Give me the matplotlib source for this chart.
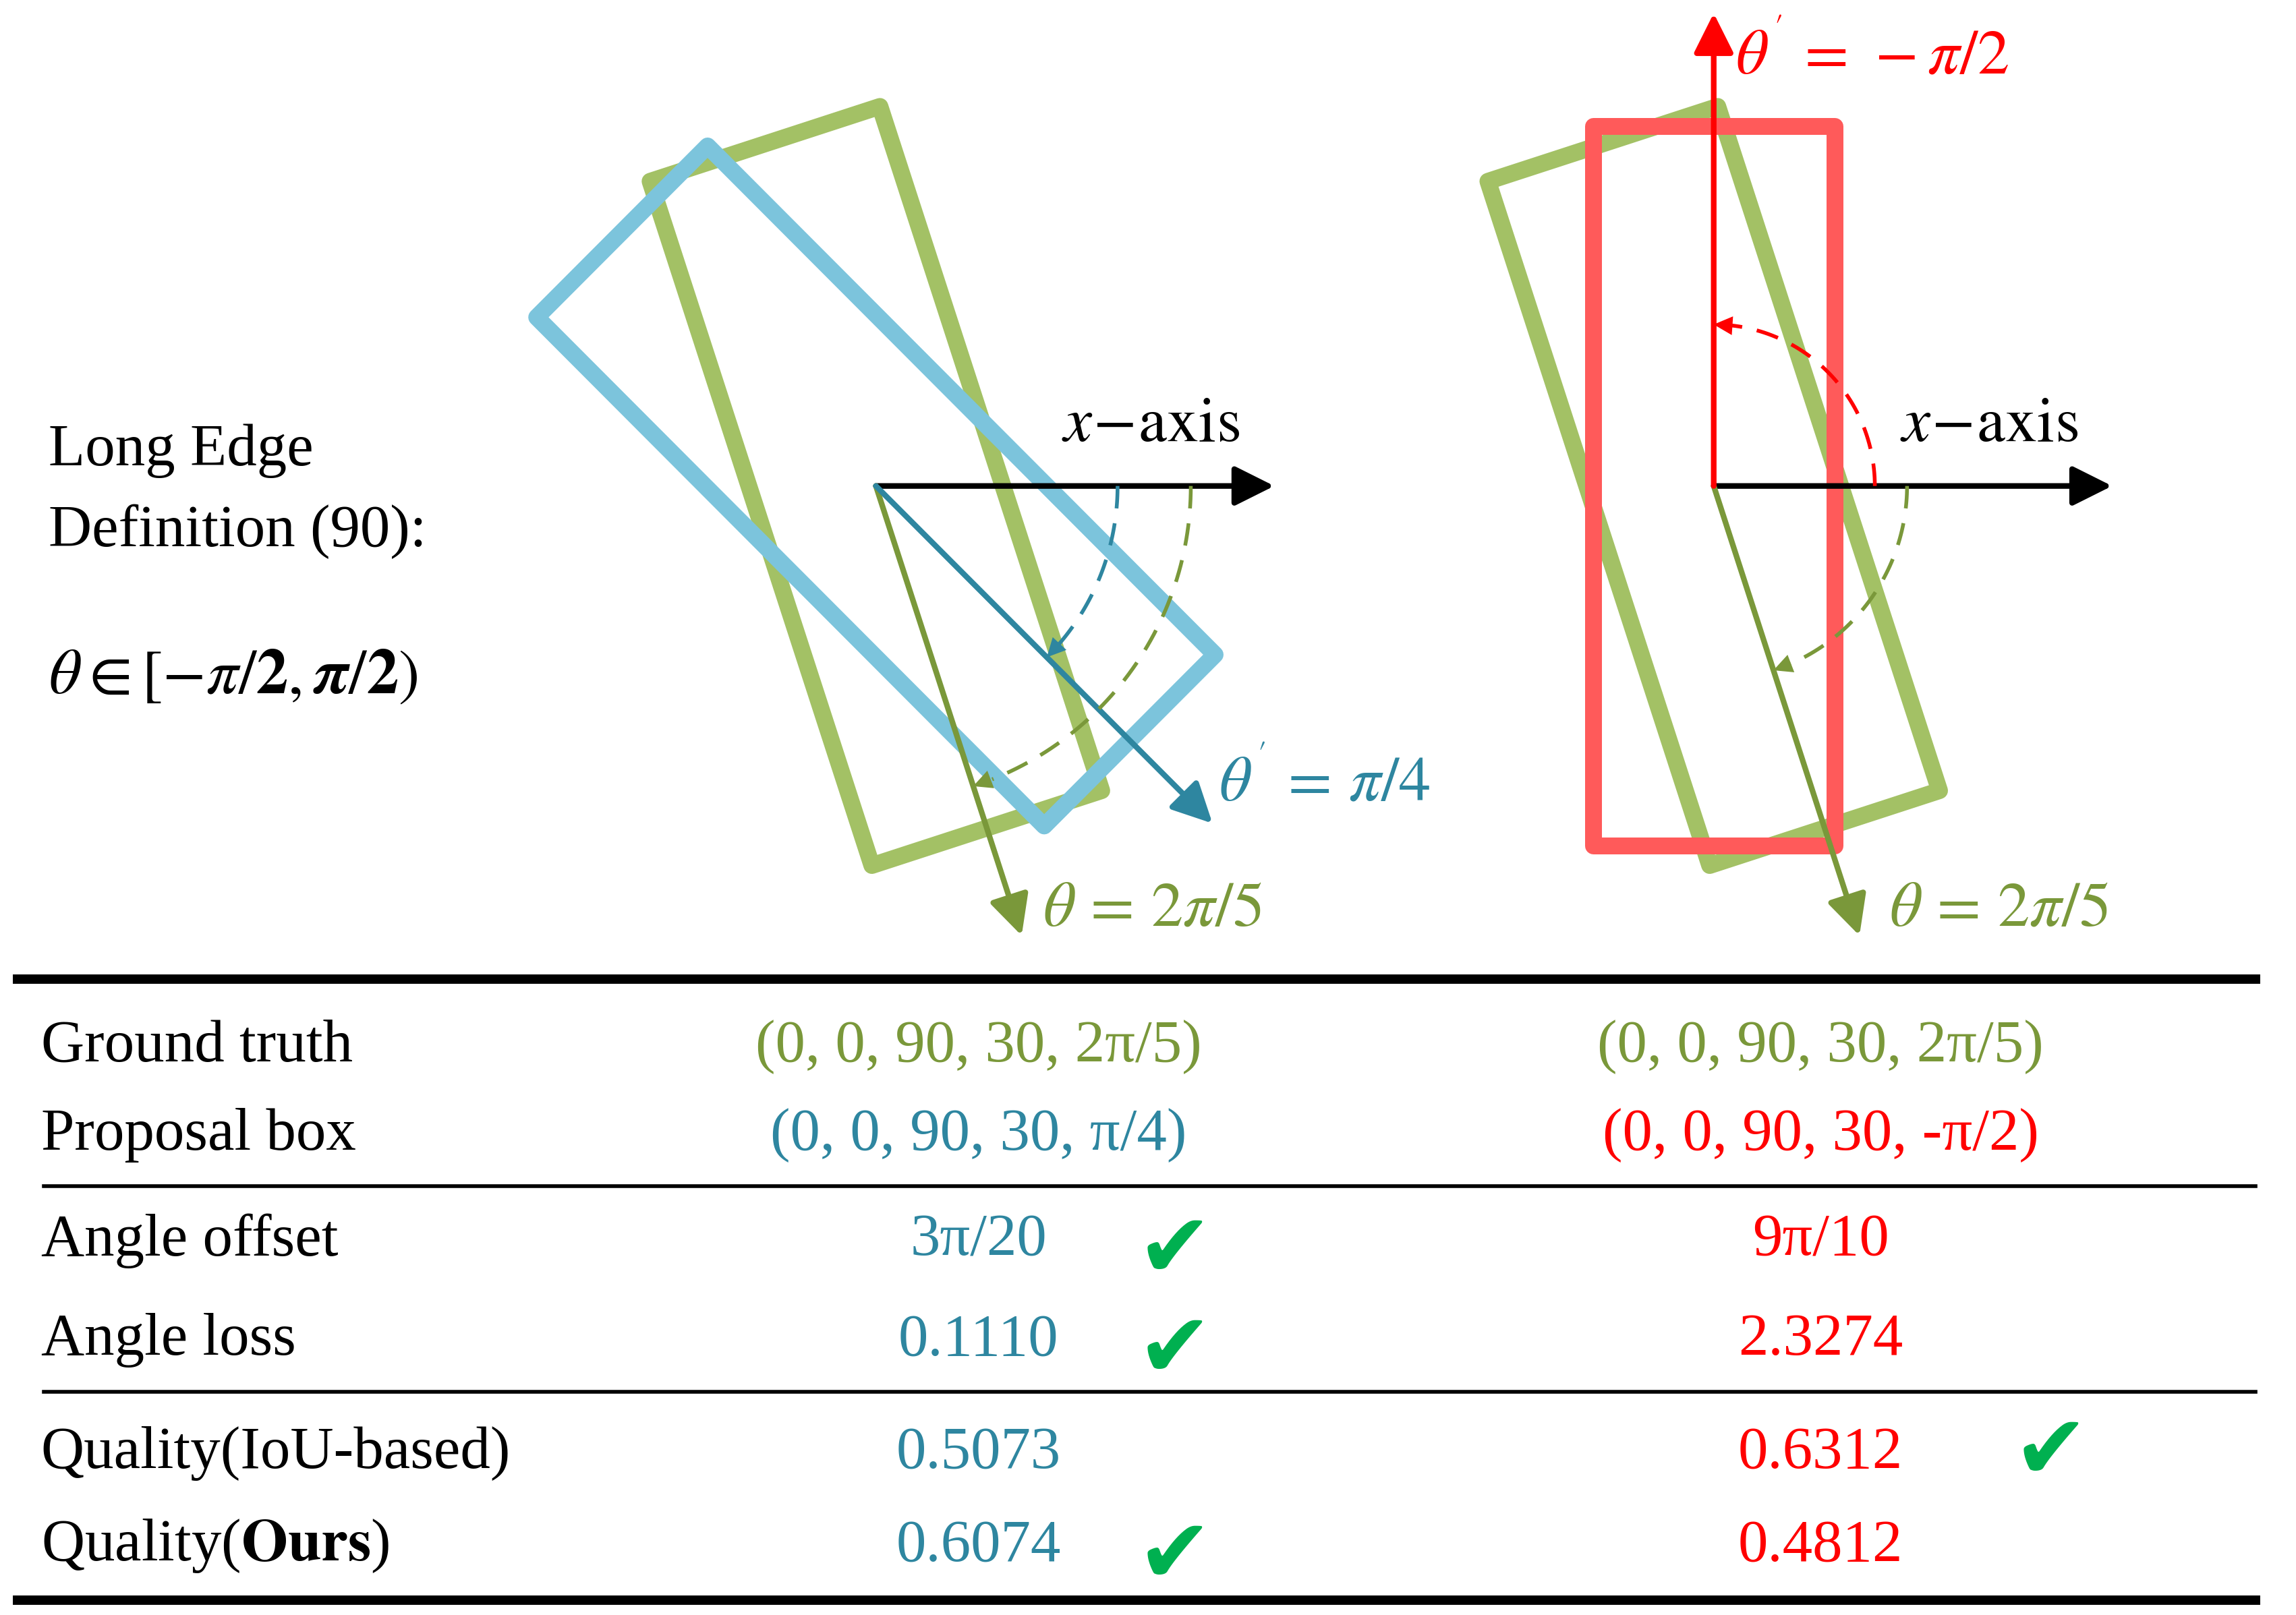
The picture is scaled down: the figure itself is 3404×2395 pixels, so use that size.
import numpy as np
import matplotlib.pyplot as plt
from matplotlib.patches import Polygon, FancyArrowPatch, Arc

plt.rcParams['font.family'] = ['Liberation Serif', 'DejaVu Serif']
plt.rcParams['mathtext.fontset'] = 'stix'

# boxes: (cx, cy, long, short, angle in deg, image coords y down)
gt_angle = 72
prop_angles = [45, -90]
box_long, box_short = 490, 165
centers = [(598, 331), (1170, 331)]

row_labels = ['Ground truth', 'Proposal box', 'Angle offset', 'Angle loss',
              'Quality(IoU-based)', 'Quality($\\mathbf{Ours}$)']
col1 = ['(0, 0, 90, 30, 2π/5)', '(0, 0, 90, 30, π/4)', '3π/20', '0.1110', '0.5073', '0.6074']
col2 = ['(0, 0, 90, 30, 2π/5)', '(0, 0, 90, 30, -π/2)', '9π/10', '2.3274', '0.6312', '0.4812']
check1 = [False, False, True, True, False, True]
check2 = [False, False, False, False, True, False]
row_y = [713, 773, 845, 913, 990, 1053]

GREEN_BOX = '#a3c165'
GREEN_TXT = '#7a983a'
BLUE_BOX = '#7cc4dc'
BLUE_TXT = '#2e86a0'
RED_BOX = '#ff5a5a'
RED_TXT = '#ff0000'
CHECK = '#00b050'

fig = plt.figure(figsize=(17.025, 11.975), dpi=200)
ax = fig.add_axes([0, 0, 1, 1])
ax.set_xlim(0, 1568)
ax.set_ylim(1100, 0)
ax.axis('off')


def box(cx, cy, L, W, ang, color):
    a = np.deg2rad(ang)
    u = np.array([np.cos(a), np.sin(a)]) * L / 2
    v = np.array([-np.sin(a), np.cos(a)]) * W / 2
    c = np.array([cx, cy])
    pts = [c - u - v, c - u + v, c + u + v, c + u - v]
    ax.add_patch(Polygon(pts, closed=True, fill=False, ec=color, lw=9, joinstyle='round'))


def arrow(cx, cy, ang, length, color, lw=3):
    a = np.deg2rad(ang)
    end = (cx + length * np.cos(a), cy + length * np.sin(a))
    ax.add_patch(FancyArrowPatch((cx, cy), end, arrowstyle='-|>', mutation_scale=45,
                                 color=color, lw=lw, shrinkA=0, shrinkB=0))


def dash_arc(cx, cy, r, a0, a1, color):
    t = np.linspace(np.deg2rad(a0), np.deg2rad(a1), 60)
    x = cx + r * np.cos(t)
    y = cy + r * np.sin(t)
    ax.plot(x[:-3], y[:-3], ls=(0, (6, 4)), color=color, lw=2)
    ax.add_patch(FancyArrowPatch((x[-6], y[-6]), (x[-1], y[-1]), arrowstyle='-|>',
                                 mutation_scale=25, color=color, lw=0, shrinkA=0, shrinkB=0))


# left panel
cx, cy = centers[0]
box(cx, cy, box_long, box_short, gt_angle, GREEN_BOX)
box(cx, cy, box_long, box_short, prop_angles[0], BLUE_BOX)
arrow(cx, cy, 0, 272, 'black')
arrow(cx, cy, gt_angle, 322, GREEN_TXT)
arrow(cx, cy, prop_angles[0], 325, BLUE_TXT)
dash_arc(cx, cy, 165, 0, prop_angles[0], BLUE_TXT)
dash_arc(cx, cy, 215, 0, gt_angle, GREEN_TXT)
ax.text(725, 290, r'$x\!-\!\mathrm{axis}$', fontsize=34, va='center')
ax.text(712, 620, r'$\theta\,=\,2\pi/5$', fontsize=34, va='center', color=GREEN_TXT)
ax.text(832, 533, r"$\theta^{'}\,=\,\pi/4$", fontsize=34, va='center', color=BLUE_TXT)

# right panel
cx, cy = centers[1]
box(cx, cy, box_long, box_short, gt_angle, GREEN_BOX)
box(cx, cy, box_long, box_short, prop_angles[1], RED_BOX)
arrow(cx, cy, 0, 272, 'black')
arrow(cx, cy, gt_angle, 322, GREEN_TXT)
arrow(cx, cy, prop_angles[1], 322, RED_TXT)
dash_arc(cx, cy, 110, 0, prop_angles[1], RED_TXT)
dash_arc(cx, cy, 132, 0, gt_angle, GREEN_TXT)
ax.text(1297, 290, r'$x\!-\!\mathrm{axis}$', fontsize=34, va='center')
ax.text(1290, 620, r'$\theta\,=\,2\pi/5$', fontsize=34, va='center', color=GREEN_TXT)
ax.text(1185, 38, r"$\theta^{'}\,=\,-\pi/2$", fontsize=34, va='center', color=RED_TXT)

# definition text
ax.text(33, 307, 'Long Edge', fontsize=32, va='center')
ax.text(33, 362, 'Definition (90):', fontsize=32, va='center')
ax.text(33, 462, r'$\theta\in[-\pi/\mathbf{2},\boldsymbol{\pi}/\mathbf{2})$', fontsize=34, va='center')

# table lines
ax.plot([12, 1540], [667, 667], color='black', lw=5)
ax.plot([30, 1540], [808, 808], color='black', lw=2)
ax.plot([30, 1540], [948, 948], color='black', lw=2)
ax.plot([12, 1540], [1090, 1090], color='black', lw=5)

for i, lab in enumerate(row_labels):
    y = row_y[i]
    ax.text(28, y, lab, fontsize=32, va='center')
    c1 = GREEN_TXT if i == 0 else BLUE_TXT
    c2 = GREEN_TXT if i == 0 else RED_TXT
    ax.text(668, y, col1[i], fontsize=32, va='center', ha='center', color=c1)
    ax.text(1243, y, col2[i], fontsize=32, va='center', ha='center', color=c2)
    if check1[i]:
        ax.text(802, y + 8, '✔', fontsize=48, va='center', ha='center', color=CHECK, family='DejaVu Sans')
    if check2[i]:
        ax.text(1400, y, '✔', fontsize=48, va='center', ha='center', color=CHECK, family='DejaVu Sans')

fig.savefig('out.png', dpi=200)
